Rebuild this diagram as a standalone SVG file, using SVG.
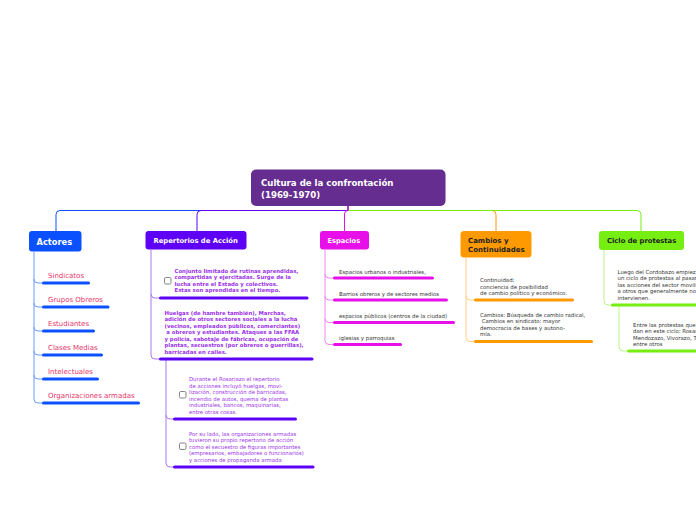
<svg xmlns="http://www.w3.org/2000/svg" width="696" height="520" viewBox="0 0 696 520">
<style>
text{font-family:"DejaVu Sans","Liberation Sans",sans-serif}
.hd{font-weight:bold}
.c{fill:none;stroke-width:1}
.u{fill:none;stroke-width:3;stroke-linecap:round}
.act{fill:#e8336a;font-size:7px}
.rep{fill:#9b2fe8;font-size:5.35px}
.repb{font-weight:bold}
.dk{fill:#333;font-size:5.4px}
.cb{fill:#fff;stroke:#777;stroke-width:0.9}
</style>
<rect width="696" height="520" fill="#fff"/>
<g id="connectors">
<path class="c" stroke="#ff9900" d="M348,206 V210.5 H492 Q496,210.5 496,214.5 V231"/>
<path class="c" stroke="#0a50ff" d="M348,206 V210.5 H60 Q56,210.5 56,214.5 V231"/>
<path class="c" stroke="#77ee11" d="M348,206 V210.5 H637 Q641,210.5 641,214.5 V231"/>
<path class="c" stroke="#5e00f5" d="M348,206 V210.5 H201 Q197,210.5 197,214.5 V231"/>
<path class="c" stroke="#e810e8" d="M348,206 V210.5 Q344.5,210.5 344.5,214 V231"/>
</g>
<g id="title">
<rect x="251" y="169.5" width="194.5" height="36.5" rx="5" fill="#662d91"/>
<text class="hd" x="261" y="186" fill="#fff" font-size="8.6px">Cultura de la confrontación</text>
<text class="hd" x="261" y="197.5" fill="#fff" font-size="8.6px">(1969-1970)</text>
</g>
<g id="actores">
<rect x="29" y="231" width="52.5" height="20.5" rx="3" fill="#0a50ff"/>
<text class="hd" x="36.5" y="244.5" fill="#fff" font-size="8.3px">Actores</text>
<path class="c" stroke="#6b9bff" d="M34,251.5 V399 Q34,403 38,403 H43 M34,279 Q34,283 38,283 H43 M34,303 Q34,307 38,307 H43 M34,327 Q34,331 38,331 H43 M34,351 Q34,355 38,355 H43 M34,375 Q34,379 38,379 H43"/>
<g stroke="#0a50ff" class="u">
<path d="M43.5,283 H88.5"/><path d="M43.5,307 H108"/><path d="M43.5,331 H93.5"/><path d="M43.5,355 H101.5"/><path d="M43.5,379 H97.5"/><path d="M43.5,403 H138.5"/>
</g>
<text class="act" x="48" y="278">Sindicatos</text>
<text class="act" x="48" y="302">Grupos Obreros</text>
<text class="act" x="48" y="326">Estudiantes</text>
<text class="act" x="48" y="350">Clases Medias</text>
<text class="act" x="48" y="374">Intelectuales</text>
<text class="act" x="48" y="398">Organizaciones armadas</text>
</g>
<g id="repertorios">
<rect x="145.5" y="231" width="101" height="18.5" rx="3" fill="#5e00f5"/>
<text class="hd" x="153.5" y="243" fill="#fff" font-size="6.8px">Repertorios de Acción</text>
<path class="c" stroke="#a778f5" d="M151,249.5 V355 Q151,359 155,359 H160 M151,294 Q151,298 155,298 H160 M166,359 V463 Q166,467 170,467 H174 M166,415 Q166,419 170,419 H174"/>
<g stroke="#5e00f5" class="u">
<path d="M160.5,298 H307"/><path d="M160.5,359 H312"/><path d="M174.5,419 H295.5"/><path d="M174.5,467 H313"/>
</g>
<rect class="cb" x="164.5" y="277.5" width="6.5" height="6.5" rx="1.3"/>
<text class="rep repb" x="174.5" y="273">Conjunto limitado de rutinas aprendidas,</text>
<text class="rep repb" x="174.5" y="279.3">compartidas y ejercitadas. Surge de la</text>
<text class="rep repb" x="174.5" y="285.6">lucha entre el Estado y colectivos.</text>
<text class="rep repb" x="174.5" y="291.9">Estas son aprendidas en el tiempo.</text>
<text class="rep repb" x="164.5" y="314.5">Huelgas (de hambre también), Marchas,</text>
<text class="rep repb" x="164.5" y="321">adición de otros sectores sociales a la lucha</text>
<text class="rep repb" x="164.5" y="327.5">(vecinos, empleados públicos, comerciantes)</text>
<text class="rep repb" x="164.5" y="334" xml:space="preserve"> a obreros y estudiantes. Ataques a las FFAA</text>
<text class="rep repb" x="164.5" y="340.5">y policía, sabotaje de fábricas, ocupación de</text>
<text class="rep repb" x="164.5" y="347">plantas, secuestros (por obreros o guerrillas),</text>
<text class="rep repb" x="164.5" y="353.5">barricadas en calles.</text>
<rect class="cb" x="179.5" y="391.5" width="6.5" height="6.5" rx="1.3"/>
<text class="rep" x="189" y="381">Durante el Rosariazo el repertorio</text>
<text class="rep" x="189" y="387.6">de acciones incluyó huelgas, movi-</text>
<text class="rep" x="189" y="394.2">lización, construcción de barricadas,</text>
<text class="rep" x="189" y="400.8">incendio de autos, quema de plantas</text>
<text class="rep" x="189" y="407.4">industriales, bancos, maquinarias,</text>
<text class="rep" x="189" y="414">entre otras cosas.</text>
<rect class="cb" x="179.5" y="443" width="6.5" height="6.5" rx="1.3"/>
<text class="rep" x="189" y="435.5">Por su lado, las organizaciones armadas</text>
<text class="rep" x="189" y="442">tuvieron su propio repertorio de acción</text>
<text class="rep" x="189" y="448.5">como el secuestro de figuras importantes</text>
<text class="rep" x="189" y="455">(empresarios, embajadores o funcionarios)</text>
<text class="rep" x="189" y="461.5">y acciones de propaganda armada</text>
</g>
<g id="espacios">
<rect x="320" y="231" width="49" height="18.5" rx="3" fill="#e810e8"/>
<text class="hd" x="327.5" y="243" fill="#fff" font-size="6.7px">Espacios</text>
<path class="c" stroke="#f285f2" d="M325,249.5 V340.5 Q325,344.5 329,344.5 H334 M325,274 Q325,278 329,278 H334 M325,296 Q325,300 329,300 H334 M325,318.5 Q325,322.5 329,322.5 H334"/>
<g stroke="#e810e8" class="u">
<path d="M334.5,278 H432.5"/><path d="M334.5,300 H446.5"/><path d="M334.5,322.5 H453.5"/><path d="M334.5,344.5 H400.5"/>
</g>
<text class="dk" x="339" y="273.5">Espacios urbanos o industriales,</text>
<text class="dk" x="339" y="295.5">Barrios obreros y de sectores medios</text>
<text class="dk" x="339" y="318">espacios públicos (centros de la ciudad)</text>
<text class="dk" x="339" y="340">iglesias y parroquias</text>
</g>
<g id="cambios">
<rect x="460.5" y="231" width="71" height="26.5" rx="3.5" fill="#ff9900"/>
<text class="hd" x="468" y="243" fill="#222" font-size="7px">Cambios y</text>
<text class="hd" x="468" y="251.5" fill="#222" font-size="7px">Continuidades</text>
<path class="c" stroke="#ffcc80" d="M466,257.5 V337.5 Q466,341.5 470,341.5 H475 M466,296 Q466,300 470,300 H475"/>
<g stroke="#ff9900" class="u">
<path d="M475.5,300 H572.5"/><path d="M475.5,341.5 H591.5"/>
</g>
<text class="dk" x="480" y="282">Continuidad:</text>
<text class="dk" x="480" y="288.5">conciencia de posibilidad</text>
<text class="dk" x="480" y="295">de cambio político y económico.</text>
<text class="dk" x="480" y="316.5">Cambios: Búsqueda de cambio radical,</text>
<text class="dk" x="480" y="323" xml:space="preserve"> Cambios en sindicato: mayor</text>
<text class="dk" x="480" y="329.5">democracia de bases y autono-</text>
<text class="dk" x="480" y="336">mía.</text>
</g>
<g id="ciclo">
<rect x="599" y="231" width="85" height="19" rx="3" fill="#77ee11"/>
<text class="hd" x="607" y="243" fill="#222" font-size="6.8px">Ciclo de protestas</text>
<path class="c" stroke="#bdf38a" d="M604,250 V301 Q604,305 608,305 H612 M619,305 V347 Q619,351 623,351 H628"/>
<g stroke="#77ee11" class="u">
<path d="M612.5,305 H700"/><path d="M628.5,351 H700"/>
</g>
<text class="dk" x="617.5" y="273.5">Luego del Cordobazo empieza</text>
<text class="dk" x="617.5" y="280">un ciclo de protestas al pasar</text>
<text class="dk" x="617.5" y="286.5">las acciones del sector movilizado</text>
<text class="dk" x="617.5" y="293">a otros que generalmente no</text>
<text class="dk" x="617.5" y="299.5">intervienen.</text>
<text class="dk" x="633" y="326.5">Entre las protestas que se</text>
<text class="dk" x="633" y="333">dan en este ciclo: Rosariazo,</text>
<text class="dk" x="633" y="339.5">Mendozazo, Vivorazo, Tucumanazo</text>
<text class="dk" x="633" y="346">entre otros</text>
</g>
</svg>
